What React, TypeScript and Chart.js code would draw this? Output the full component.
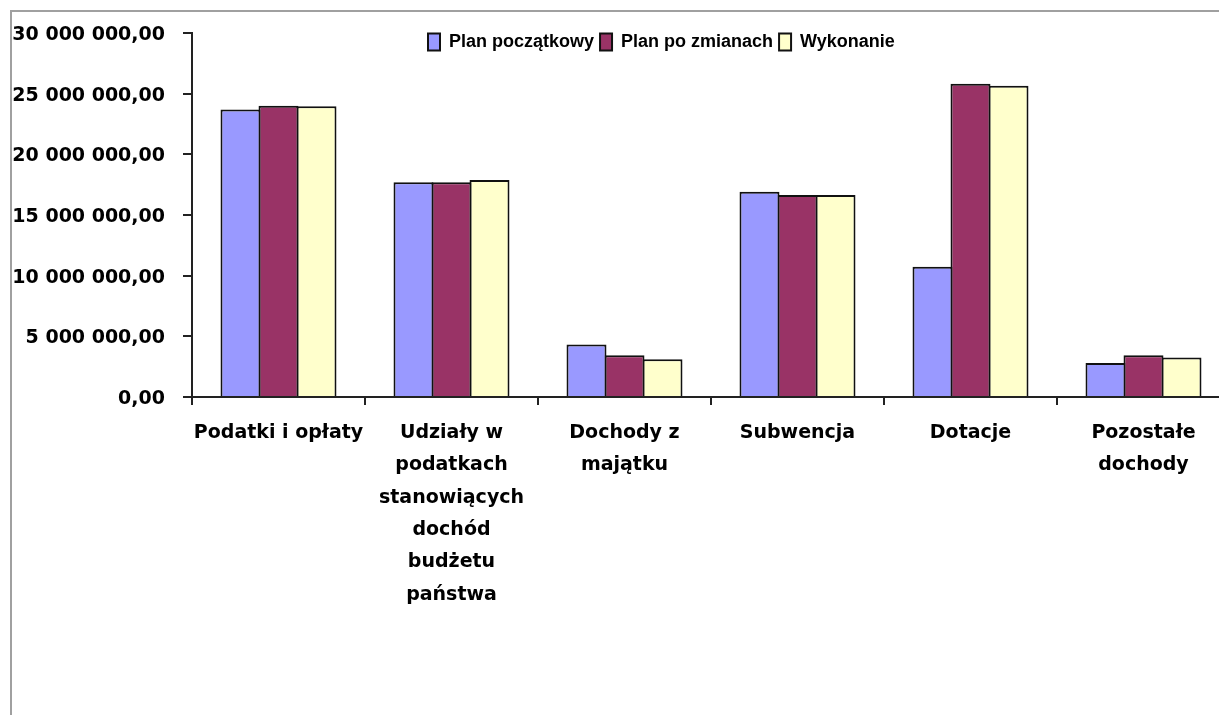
import React, { useEffect, useRef } from "react";
import { Chart, registerables } from "chart.js";

Chart.register(...registerables);

// ---- data ----
const categories: string[][] = [
  ["Podatki i opłaty"],
  ["Udziały w", "podatkach", "stanowiących", "dochód", "budżetu", "państwa"],
  ["Dochody z", "majątku"],
  ["Subwencja"],
  ["Dotacje"],
  ["Pozostałe", "dochody"],
];

const seriesNames: string[] = ["Plan początkowy", "Plan po zmianach", "Wykonanie"];

const planPoczatkowy: number[] = [23700000, 17700000, 4320000, 16920000, 10730000, 2810000];
const planPoZmianach: number[] = [24000000, 17700000, 3440000, 16650000, 25820000, 3440000];
const wykonanie: number[] = [23960000, 17890000, 3110000, 16650000, 25650000, 3250000];

const yTickLabels: string[] = [
  "0,00",
  "5 000 000,00",
  "10 000 000,00",
  "15 000 000,00",
  "20 000 000,00",
  "25 000 000,00",
  "30 000 000,00",
];

const seriesColors: string[] = ["#9999FF", "#993366", "#FFFFCC"];

// ---- layout constants (canvas coordinates) ----
const CANVAS_W = 1240;
const CANVAS_H = 720;
const AREA_LEFT = 180;
const AREA_RIGHT = 1218;
const AREA_BOTTOM = 385;
const LEGEND_X = 416;
const LEGEND_Y = 21;

const legendPlacer = {
  id: "legendPlacer",
  afterLayout(chart: any) {
    const lg = chart.legend;
    if (!lg) return;
    const pad = lg.options.labels.padding;
    lg.left = LEGEND_X - pad;
    lg.top = LEGEND_Y - pad;
    lg.width = 1000;
    lg.right = lg.left + 1000;
    lg.height = 40;
    lg.bottom = lg.top + 40;
  },
};

export default function App() {
  const ref = useRef<HTMLCanvasElement | null>(null);

  useEffect(() => {
    if (!ref.current) return;
    const axisColor = "#222";
    const chart = new Chart(ref.current, {
      type: "bar",
      data: {
        labels: categories,
        datasets: [planPoczatkowy, planPoZmianach, wykonanie].map((d, i) => ({
          label: seriesNames[i],
          data: d,
          backgroundColor: seriesColors[i],
          borderColor: "#111",
          borderWidth: 2,
          categoryPercentage: 0.659,
          barPercentage: 1.0526,
        })),
      },
      options: {
        animation: false,
        responsive: false,
        maintainAspectRatio: false,
        layout: { padding: { top: 20, right: CANVAS_W - AREA_RIGHT, bottom: 0, left: 0 } },
        plugins: {
          tooltip: { enabled: false },
          legend: {
            display: true,
            position: "top",
            align: "start",
            maxHeight: 1,
            labels: {
              color: "#000",
              boxWidth: 12,
              boxHeight: 17,
              padding: 6,
              font: { family: "'Liberation Sans', Arial, sans-serif", weight: "bold", size: 18 },
            },
          },
        },
        scales: {
          x: {
            offset: true,
            border: { display: true, color: axisColor, width: 2 },
            grid: {
              display: true,
              offset: true,
              drawOnChartArea: false,
              drawTicks: true,
              tickLength: 8,
              color: axisColor,
              lineWidth: 2,
            },
            ticks: {
              color: "#000",
              padding: 12,
              autoSkip: false,
              maxRotation: 0,
              minRotation: 0,
              font: { family: "'DejaVu Sans', sans-serif", weight: "bold", size: 19, lineHeight: 1.7 },
            },
            afterFit: (scale: any) => {
              scale.height = CANVAS_H - AREA_BOTTOM;
            },
          },
          y: {
            min: 0,
            max: 30000000,
            border: { display: true, color: axisColor, width: 2 },
            grid: {
              display: true,
              drawOnChartArea: false,
              drawTicks: true,
              tickLength: 9,
              color: axisColor,
              lineWidth: 2,
            },
            ticks: {
              stepSize: 5000000,
              color: "#000",
              padding: 18,
              labelOffset: 2,
              font: { family: "'DejaVu Sans', sans-serif", weight: "bold", size: 19 },
              callback: (_v: any, i: number) => yTickLabels[i],
            },
            afterFit: (scale: any) => {
              scale.width = AREA_LEFT;
              scale.paddingTop = 0;
              scale.paddingBottom = 0;
            },
          },
        },
      },
      plugins: [legendPlacer],
    } as any);
    return () => chart.destroy();
  }, []);

  return (
    <div
      style={{
        position: "fixed",
        left: 0,
        top: 0,
        width: "100vw",
        height: "100vh",
        overflow: "hidden",
        background: "#fff",
      }}
    >
      <div
        style={{
          position: "absolute",
          left: 10,
          top: 10,
          width: 1300,
          height: 800,
          borderTop: "2px solid #a0a0a0",
          borderLeft: "2px solid #a0a0a0",
        }}
      >
        <canvas
          ref={ref}
          width={CANVAS_W}
          height={CANVAS_H}
          style={{ position: "absolute", left: 0, top: 0, display: "block" }}
        />
      </div>
    </div>
  );
}
